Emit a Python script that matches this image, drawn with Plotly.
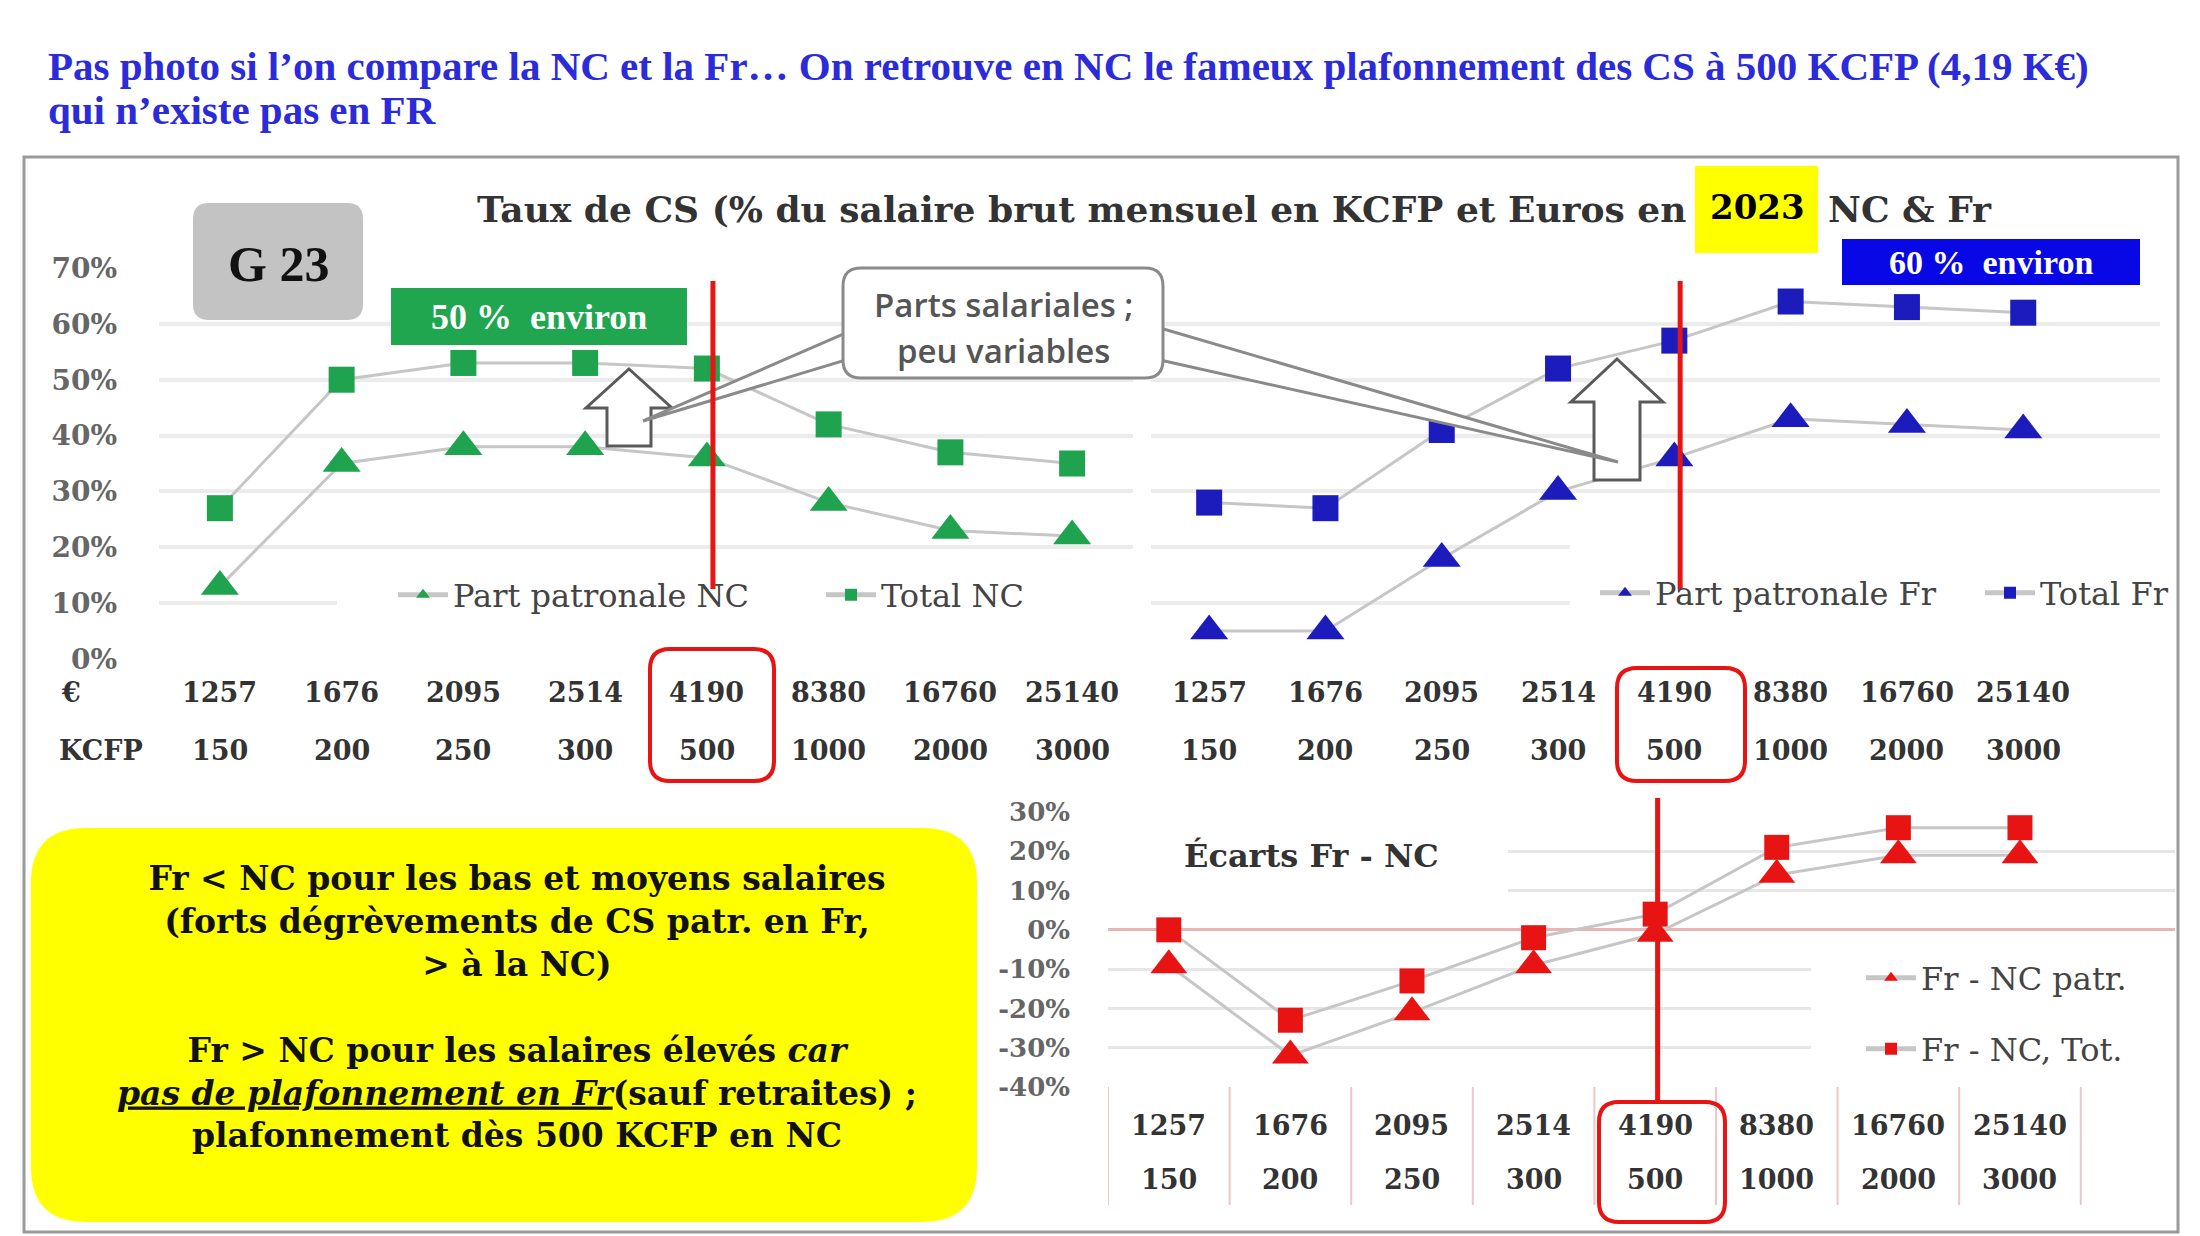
import plotly.graph_objects as go

# ---------------- data ----------------
EURO = [1257, 1676, 2095, 2514, 4190, 8380, 16760, 25140]
KCFP = [150, 200, 250, 300, 500, 1000, 2000, 3000]
NC_PATR = [13, 35, 38, 38, 36, 28, 23, 22]
NC_TOT = [27, 50, 53, 53, 52, 42, 37, 35]
FR_PATR = [5, 5, 18, 30, 36, 43, 42, 41]
FR_TOT = [28, 27, 41, 52, 57, 64, 63, 62]
ECART_PATR = [-9, -32, -21, -9, -1, 14, 19, 19]
ECART_TOT = [0, -23, -13, -2, 4, 21, 26, 26]
TOP_TICKS = [0, 10, 20, 30, 40, 50, 60, 70]
BOT_TICKS = [-40, -30, -20, -10, 0, 10, 20, 30]

CATS = [str(e) for e in EURO]

# the page body adds an 8px margin: compensate positions
OFF = 8
FW, FH = 2200, 1236
def px(x): return (x - OFF) / FW
def py(y): return 1 - (y - OFF) / FH

SERIF = "DejaVu Serif"
NARROW = "Liberation Serif"
GREEN = "#1fa34f"
BLUE = "#1c1cbc"
RED = "#e81414"
LINEGRAY = "#c6c6c6"

# subplot geometry (reference px)
NC_L, NC_R = 159, 1133
FR_L, FR_R = 1151, 2160
EC_L, EC_R = 1108, 2175
TOP_T, TOP_B = 268, 659
BOT_T, BOT_B = 812, 1087
NC_RANGE = [-0.5, 7.5]
FR_RANGE = [-0.5, 8.176]
EC_RANGE = [-0.5, 8.275]
TOP_RANGE = [0, 0.7]
BOT_RANGE = [-0.4, 0.3]

fig = go.Figure()

def add_series(x, y, xa, ya, sym, color, size, name, legend):
    fig.add_trace(go.Scatter(
        x=x, y=[v / 100 for v in y], xaxis=xa, yaxis=ya, name=name,
        mode="lines+markers", legend=legend, cliponaxis=False,
        line=dict(color=LINEGRAY, width=3),
        marker=dict(symbol=sym, color=color, size=size),
    ))

add_series(CATS, NC_PATR, "x", "y", "triangle-up", GREEN, 33, "Part patronale NC", "legend")
add_series(CATS, NC_TOT, "x", "y", "square", GREEN, 26, "Total NC", "legend2")
add_series(CATS, FR_PATR, "x2", "y2", "triangle-up", BLUE, 33, "Part patronale Fr", "legend3")
add_series(CATS, FR_TOT, "x2", "y2", "square", BLUE, 26, "Total Fr", "legend4")
add_series(CATS, ECART_TOT, "x3", "y3", "square", RED, 25, "Fr - NC, Tot.", "legend6")
add_series(CATS, ECART_PATR, "x3", "y3", "triangle-up", RED, 32, "Fr - NC patr.", "legend5")

def leg(xp, yp):
    return dict(x=px(xp), y=py(yp), xanchor="left", yanchor="middle",
                orientation="h", bgcolor="rgba(0,0,0,0)",
                font=dict(family=SERIF, size=32, color="#444"),
                itemsizing="constant", itemwidth=50)

grid_top = dict(showgrid=True, gridcolor="#ececec", gridwidth=4, zeroline=False,
                showline=False, ticks="", automargin=False)

fig.update_layout(
    width=FW, height=FH, margin=dict(l=0, r=0, t=0, b=0, autoexpand=False),
    paper_bgcolor="white", plot_bgcolor="white", showlegend=True,
    xaxis=dict(domain=[px(NC_L), px(NC_R)], range=NC_RANGE, type="category", automargin=False,
               showgrid=False, showticklabels=False, zeroline=False, anchor="y"),
    yaxis=dict(domain=[py(TOP_B), py(TOP_T)], range=TOP_RANGE, anchor="x",
               tickvals=[t / 100 for t in TOP_TICKS],
               ticktext=[f"{t}%" for t in TOP_TICKS],
               tickfont=dict(family=SERIF, size=28, color="#666", weight="bold"),
               ticklabelstandoff=41, **grid_top),
    xaxis2=dict(domain=[px(FR_L), px(FR_R)], range=FR_RANGE, type="category", automargin=False,
                showgrid=False, showticklabels=False, zeroline=False, anchor="y2"),
    yaxis2=dict(domain=[py(TOP_B), py(TOP_T)], range=TOP_RANGE, anchor="x2",
                tickvals=[t / 100 for t in TOP_TICKS], showticklabels=False, **grid_top),
    xaxis3=dict(domain=[px(EC_L), px(EC_R)], range=EC_RANGE, type="category", automargin=False,
                showgrid=False, showticklabels=False, zeroline=False, anchor="y3"),
    yaxis3=dict(domain=[py(BOT_B), py(BOT_T)], range=BOT_RANGE, anchor="x3", automargin=False,
                tickvals=[t / 100 for t in BOT_TICKS],
                ticktext=[f"{t}%" for t in BOT_TICKS],
                tickfont=dict(family=SERIF, size=26, color="#666", weight="bold"),
                ticklabelstandoff=37, showgrid=True, gridcolor="#e6e6e6", gridwidth=3,
                zeroline=True, zerolinecolor="#e8b4b4", zerolinewidth=3,
                showline=False, ticks=""),
    legend=leg(393, 595),
    legend2=leg(821, 595),
    legend3=leg(1595, 593),
    legend4=leg(1980, 593),
    legend5=leg(1861, 978),
    legend6=leg(1861, 1049),
)

shapes = []
annots = []

def X(v): return f"{px(v):.5f}"
def Y(v): return f"{py(v):.5f}"

def rrect_path(x0, y0, x1, y1, r):
    return (f"M {X(x0 + r)},{Y(y0)} L {X(x1 - r)},{Y(y0)} Q {X(x1)},{Y(y0)} {X(x1)},{Y(y0 + r)} "
            f"L {X(x1)},{Y(y1 - r)} Q {X(x1)},{Y(y1)} {X(x1 - r)},{Y(y1)} "
            f"L {X(x0 + r)},{Y(y1)} Q {X(x0)},{Y(y1)} {X(x0)},{Y(y1 - r)} "
            f"L {X(x0)},{Y(y0 + r)} Q {X(x0)},{Y(y0)} {X(x0 + r)},{Y(y0)} Z")

def poly_path(pts):
    return "M " + " L ".join(f"{X(x)},{Y(y)}" for x, y in pts) + " Z"

def rr(x0, y0, x1, y1, r, fill, line=None, lw=0):
    shapes.append(dict(type="path", xref="paper", yref="paper", layer="above",
                       path=rrect_path(x0, y0, x1, y1, r), fillcolor=fill,
                       line=dict(color=line or "rgba(0,0,0,0)", width=lw)))

def cover(xa, ya, L, R, T, B, xr, yr, x0, x1, y0, y1):
    # white patch between gridlines and traces (axis coordinates)
    def dx(v): return xr[0] + (v - L) / (R - L) * (xr[1] - xr[0])
    def dy(v): return yr[0] + (B - v) / (B - T) * (yr[1] - yr[0])
    shapes.append(dict(type="rect", xref=xa, yref=ya, layer="between",
                       x0=dx(x0), x1=dx(x1), y0=dy(y1), y1=dy(y0),
                       fillcolor="white", line=dict(width=0)))

def txt(x, y, text, size, color="#333", family=SERIF, weight="normal", xanchor="center",
        align="center"):
    annots.append(dict(x=px(x), y=py(y), xref="paper", yref="paper", text=text,
                       showarrow=False, xanchor=xanchor, yanchor="middle", align=align,
                       font=dict(family=family, size=size, color=color, weight=weight)))

# outer frame
shapes.append(dict(type="rect", xref="paper", yref="paper", x0=px(24), x1=px(2178),
                   y0=py(1232), y1=py(157), line=dict(color="#9a9a9a", width=3),
                   fillcolor="rgba(0,0,0,0)", layer="below"))

# white covers behind legends / sub-title
cover("x", "y", NC_L, NC_R, TOP_T, TOP_B, NC_RANGE, TOP_RANGE, 337, 1133, 582, 622)
cover("x2", "y2", FR_L, FR_R, TOP_T, TOP_B, FR_RANGE, TOP_RANGE, 1570, 2160, 530, 625)
cover("x3", "y3", EC_L, EC_R, BOT_T, BOT_B, EC_RANGE, BOT_RANGE, 1108, 1508, 838, 906)
cover("x3", "y3", EC_L, EC_R, BOT_T, BOT_B, EC_RANGE, BOT_RANGE, 1811, 2175, 950, 1080)

# header text
txt(46, 66, "Pas photo si l’on compare la NC et la Fr… On retrouve en NC le fameux plafonnement des CS à 500 KCFP (4,19 K€)",
    41, color="#2b2bd9", family=NARROW, weight="bold", xanchor="left", align="left")
txt(46, 110, "qui n’existe pas en FR",
    41, color="#2b2bd9", family=NARROW, weight="bold", xanchor="left", align="left")

# chart title
shapes.append(dict(type="rect", xref="paper", yref="paper", x0=px(1695), x1=px(1818),
                   y0=py(253), y1=py(166), fillcolor="#ffff00", line=dict(width=0)))
txt(1688, 209, "Taux de CS (% du salaire brut mensuel en KCFP et Euros en", 36, weight="bold",
    xanchor="right")
txt(1757, 207, "2023", 34, color="#000", weight="bold")
txt(1826, 209, "NC & Fr", 36, weight="bold", xanchor="left")

# G 23 badge
rr(193, 203, 363, 320, 16, "#c3c3c3")
txt(278, 264, "G 23", 50, color="#111", family=NARROW, weight="bold")

# 50 % / 60 % labels
shapes.append(dict(type="rect", xref="paper", yref="paper", x0=px(391), x1=px(687),
                   y0=py(345), y1=py(288), fillcolor="#1fa64f", line=dict(width=0)))
txt(539, 317, "50 %  environ", 36, color="white", family=NARROW, weight="bold")
shapes.append(dict(type="rect", xref="paper", yref="paper", x0=px(1842), x1=px(2140),
                   y0=py(285), y1=py(239), fillcolor="#0808e6", line=dict(width=0)))
txt(1991, 262, "60 %  environ", 34, color="white", family=NARROW, weight="bold")

# hollow up arrows
def up_arrow(cx, top, hb, hw, sw, yb):
    pts = [(cx, top), (cx + hw, hb), (cx + sw, hb), (cx + sw, yb), (cx - sw, yb),
           (cx - sw, hb), (cx - hw, hb)]
    shapes.append(dict(type="path", xref="paper", yref="paper", path=poly_path(pts),
                       fillcolor="white", line=dict(color="#5a5a5a", width=3)))

up_arrow(629, 369, 408, 43, 22, 446)
up_arrow(1617, 359, 402, 46, 23, 480)

# callout wedges + box
for pts in ([(846, 333), (643, 421), (846, 360)], [(1160, 328), (1618, 462), (1160, 360)]):
    shapes.append(dict(type="path", xref="paper", yref="paper", path=poly_path(pts),
                       fillcolor="white", line=dict(color="#8a8a8a", width=3)))
rr(843, 268, 1163, 378, 18, "white", "#8a8a8a", 3)
txt(1003, 304, "Parts salariales ;", 33, color="#555", family="Open Sans", weight=600)
txt(1003, 350, "peu variables", 33, color="#555", family="Open Sans", weight=600)

# red markers at the 500 KCFP ceiling (lines drawn just right of the category centre)
CEIL = KCFP.index(500)
shapes.append(dict(type="line", xref="x", yref="paper", x0=CEIL + 0.05, x1=CEIL + 0.05,
                   y0=py(589), y1=py(281), line=dict(color=RED, width=5)))
shapes.append(dict(type="line", xref="x2", yref="paper", x0=CEIL + 0.05, x1=CEIL + 0.05,
                   y0=py(589), y1=py(281), line=dict(color=RED, width=5)))
shapes.append(dict(type="line", xref="x3", yref="paper", x0=CEIL + 0.02, x1=CEIL + 0.02,
                   y0=py(1102), y1=py(798), line=dict(color=RED, width=5)))
rr(650, 649, 774, 781, 20, "rgba(0,0,0,0)", RED, 4)
rr(1617, 668, 1745, 781, 20, "rgba(0,0,0,0)", RED, 4)
rr(1599, 1102, 1725, 1222, 20, "rgba(0,0,0,0)", RED, 4)

# x label rows; category axes are addressed by serial index
LBL = dict(family=SERIF, size=27, color="#333", weight="bold")
def cat_label(i, xa, ypx, text):
    annots.append(dict(x=i, xref=xa, y=py(ypx), yref="paper", text=text, showarrow=False,
                       xanchor="center", yanchor="middle", font=LBL))

for xa in ("x", "x2"):
    for i, (c, k) in enumerate(zip(CATS, KCFP)):
        cat_label(i, xa, 692, c)
        cat_label(i, xa, 750, str(k))
txt(71, 692, "€", 27, weight="bold")
txt(101, 750, "KCFP", 27, weight="bold")

# bottom chart table labels + separators
for i, (c, k) in enumerate(zip(CATS, KCFP)):
    cat_label(i, "x3", 1125, c)
    cat_label(i, "x3", 1179, str(k))
for i in range(len(CATS) + 1):
    shapes.append(dict(type="line", xref="x3", yref="paper", x0=i - 0.5, x1=i - 0.5,
                       y0=py(1205), y1=py(1087), line=dict(color="#efc6c6", width=2),
                       layer="below"))

txt(1311, 856, "Écarts Fr - NC", 32, weight="bold")

# yellow comment box
rr(31, 828, 977, 1222, 55, "#ffff00")
txt(517, 1007,
    "Fr &lt; NC pour les bas et moyens salaires<br>(forts dégrèvements de CS patr. en Fr,<br>&gt; à la NC)<br><br>"
    "Fr &gt; NC pour les salaires élevés <i>car</i><br><i><u>pas de plafonnement en Fr</u></i>(sauf retraites) ;<br>"
    "plafonnement dès 500 KCFP en NC",
    33, color="#111", weight="bold")

fig.update_layout(shapes=shapes, annotations=annots)
fig.write_html("out.html")
